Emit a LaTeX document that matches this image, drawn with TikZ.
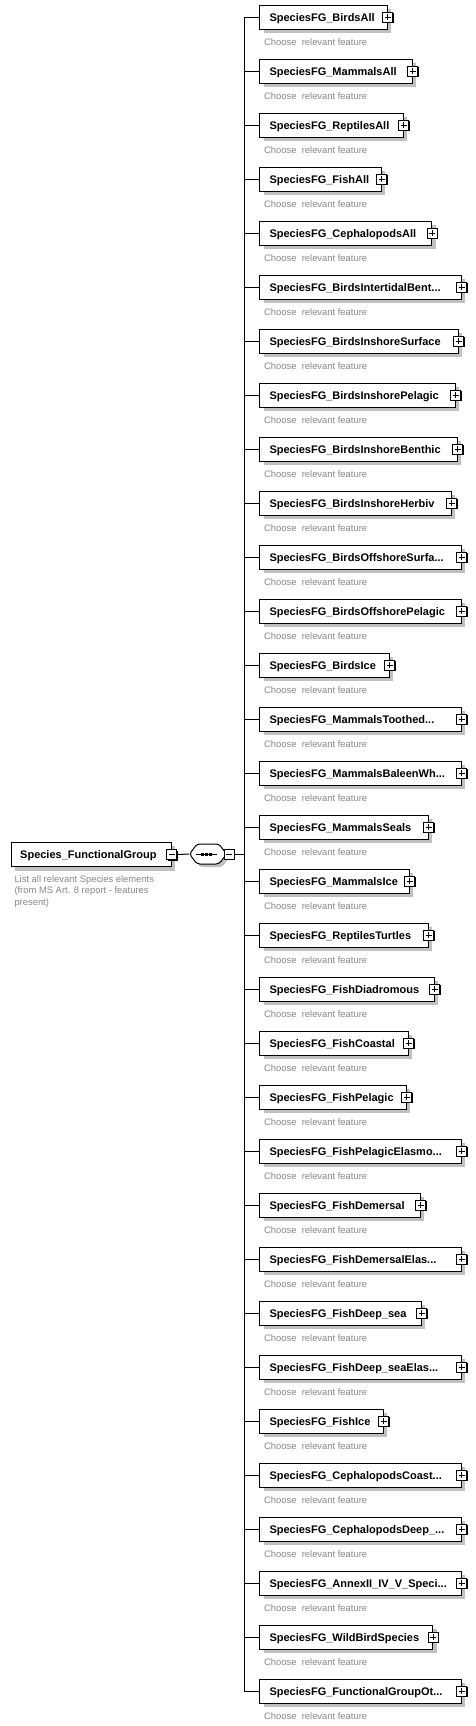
\documentclass[tikz,border=0pt]{standalone}
\usepackage{fontspec}
\setmainfont{Liberation Sans}
\usetikzlibrary{shadows,calc}
\definecolor{shadowgray}{RGB}{192,192,192}
\definecolor{notegray}{RGB}{135,135,135}
\begin{document}
\begin{tikzpicture}[x=1pt,y=-1pt,
  fgbox/.style={draw=black, line width=1pt, fill=white, minimum height=24pt, inner sep=0pt, anchor=west,
    drop shadow={shadow xshift=4pt, shadow yshift=-4pt, opacity=1, fill=shadowgray}},
  fgname/.style={font=\fontsize{11}{13}\selectfont\bfseries, inner sep=0pt},
  note/.style={font=\fontsize{9.4}{11.2}\selectfont, text=notegray, inner sep=0pt},
  plusbox/.style={draw=black, fill=white, line width=0.8pt, minimum size=10pt, inner sep=0pt,
    drop shadow={shadow xshift=1pt, shadow yshift=-1pt, opacity=1, fill=black},
    path picture={\draw[line width=0.8pt] ([xshift=2pt]path picture bounding box.west) -- ([xshift=-2pt]path picture bounding box.east);
      \draw[line width=0.8pt] ([yshift=-2pt]path picture bounding box.north) -- ([yshift=2pt]path picture bounding box.south);}},
  minusbox/.style={draw=black, fill=white, line width=0.8pt, minimum size=10pt, inner sep=0pt,
    drop shadow={shadow xshift=1pt, shadow yshift=-1pt, opacity=1, fill=black},
    path picture={\draw[line width=0.8pt] ([xshift=2pt]path picture bounding box.west) -- ([xshift=-2pt]path picture bounding box.east);}},
  conn/.style={draw=black, line width=1pt}
]
\useasboundingbox (0,0) rectangle (475,1726);

% children
\foreach \i/\t/\r in {
 1/{SpeciesFG\_BirdsAll}/386.7,
 2/{SpeciesFG\_MammalsAll}/411.7,
 3/{SpeciesFG\_ReptilesAll}/402.7,
 4/{SpeciesFG\_FishAll}/380.7,
 5/{SpeciesFG\_CephalopodsAll}/431,
 6/{SpeciesFG\_BirdsIntertidalBent...}/460.5,
 7/{SpeciesFG\_BirdsInshoreSurface}/457.7,
 8/{SpeciesFG\_BirdsInshorePelagic}/454.7,
 9/{SpeciesFG\_BirdsInshoreBenthic}/456.7,
 10/{SpeciesFG\_BirdsInshoreHerbiv}/450.7,
 11/{SpeciesFG\_BirdsOffshoreSurfa...}/460.5,
 12/{SpeciesFG\_BirdsOffshorePelagic}/460.5,
 13/{SpeciesFG\_BirdsIce}/388.7,
 14/{SpeciesFG\_MammalsToothed...}/460.5,
 15/{SpeciesFG\_MammalsBaleenWh...}/460.5,
 16/{SpeciesFG\_MammalsSeals}/427.7,
 17/{SpeciesFG\_MammalsIce}/408.7,
 18/{SpeciesFG\_ReptilesTurtles}/427.7,
 19/{SpeciesFG\_FishDiadromous}/433.7,
 20/{SpeciesFG\_FishCoastal}/407.7,
 21/{SpeciesFG\_FishPelagic}/405.7,
 22/{SpeciesFG\_FishPelagicElasmo...}/460.5,
 23/{SpeciesFG\_FishDemersal}/419.7,
 24/{SpeciesFG\_FishDemersalElas...}/460.5,
 25/{SpeciesFG\_FishDeep\_sea}/420.7,
 26/{SpeciesFG\_FishDeep\_seaElas...}/460.5,
 27/{SpeciesFG\_FishIce}/382.7,
 28/{SpeciesFG\_CephalopodsCoast...}/460.5,
 29/{SpeciesFG\_CephalopodsDeep\_...}/460.5,
 30/{SpeciesFG\_AnnexII\_IV\_V\_Speci...}/460.5,
 31/{SpeciesFG\_WildBirdSpecies}/432.3,
 32/{SpeciesFG\_FunctionalGroupOt...}/460.5}
{
  \pgfmathsetmacro\yy{17.3+54*(\i-1)}
  \pgfmathsetmacro\ww{\r-259.3}
  \node[fgbox, minimum width=\ww pt] (b\i) at (259.3,\yy) {};
  \node[fgname, anchor=base west] (t\i) at (269.3,\yy+3.8) {\t};
  \node[plusbox] (p\i) at (b\i.east) {};
  \node[note, anchor=base west] (n\i) at (264,\yy+28.3) {Choose\ \ relevant feature};
  \coordinate (k\i) at (244,\yy);
  \draw[conn] (k\i) -- (b\i.west);
}
\draw[conn] (k1) -- (k32);

% root element
\node[fgbox, minimum width=160pt, minimum height=24.4pt] (root) at (10.7,854.5) {};
\node[fgname, anchor=base west] (rt) at (20,858.3) {Species\_FunctionalGroup};
\node[minusbox] (rm) at (root.east) {};
\node[note, anchor=north west, align=left] (rd) at (14.3,875.6)
  {List all relevant Species elements\\(from MS Art. 8 report - features\\present)};

% sequence compositor
\node[inner sep=0pt, minimum width=37pt, minimum height=20pt] (seq) at (208,854) {};
\draw[conn] (rm.east) -- (seq.west);
\fill[shadowgray, rounded corners=3pt] (193,857) -- (200,847) -- (222,847) -- (230,857) -- (222,867) -- (200,867) -- cycle;
\draw[black, line width=1pt, fill=white, rounded corners=3pt] (189.5,854) -- (197,844) -- (219,844) -- (226.5,854) -- (219,864) -- (197,864) -- cycle;
\draw[black, line width=1pt] (196,854) -- (217,854);
\foreach \dx in {201,205.2,209.4} { \fill[black] (\dx,852.5) rectangle +(3,3); }
\node[minusbox] (sm) at (229,854) {};
\coordinate (kc) at (244,854);
\draw[conn] (sm.east) -- (kc);
\end{tikzpicture}
\end{document}
